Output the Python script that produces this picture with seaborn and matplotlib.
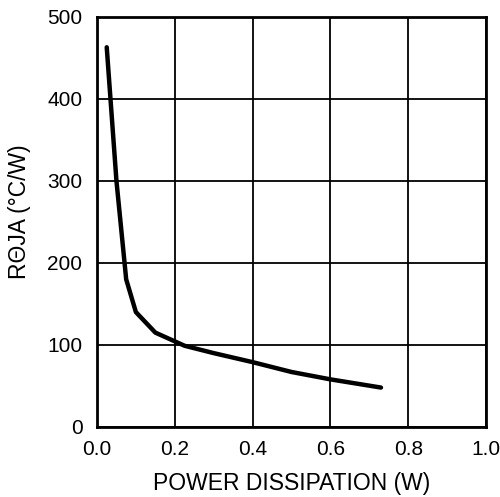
import numpy as np
import pandas as pd
import seaborn as sns
import matplotlib.pyplot as plt

# values
power = [0.025, 0.05, 0.075, 0.10, 0.15, 0.225, 0.30, 0.40, 0.50, 0.60, 0.73]
rtheta = [463, 300, 180, 140, 115, 99, 90, 79, 67, 58, 48]
xticks = [0.0, 0.2, 0.4, 0.6, 0.8, 1.0]
yticks = [0, 100, 200, 300, 400, 500]

df = pd.DataFrame({'power': power, 'rtheta': rtheta})

sns.set_style('white')
plt.rcParams['font.family'] = ['Liberation Sans', 'DejaVu Sans']

fig = plt.figure(figsize=(5.0, 4.97), dpi=100)
ax = fig.add_axes([0.194, 0.141, 0.778, 0.825])

sns.lineplot(data=df, x='power', y='rtheta', color='black', linewidth=3.2, ax=ax,
             zorder=5)

ax.set_xlim(0, 1.0)
ax.set_ylim(0, 500)
ax.set_xticks(xticks)
ax.set_yticks(yticks)
ax.set_xticklabels([f'{v:.1f}' for v in xticks])
ax.grid(True, color='black', linewidth=1.3)
for s in ax.spines.values():
    s.set_color('black')
    s.set_linewidth(2)
ax.tick_params(axis='both', length=0, labelsize=15, colors='black')
ax.tick_params(axis='x', pad=9.5)
ax.tick_params(axis='y', pad=10.5)
ax.set_xlabel('POWER DISSIPATION (W)', fontsize=16.5, labelpad=9, color='black')
ax.set_ylabel('R\u0398JA (\u00b0C/W)', fontsize=16.5, color='black')
ax.yaxis.set_label_coords(-0.17, 0.524)

fig.savefig('out.png', dpi=100)
